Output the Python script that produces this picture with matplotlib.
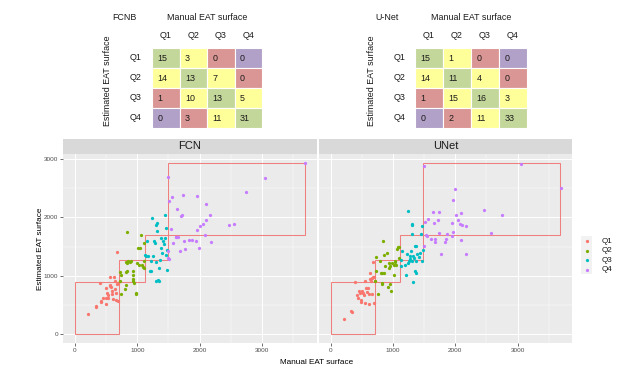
import matplotlib
matplotlib.use('Agg')
import matplotlib.pyplot as plt
from matplotlib.patches import Rectangle

plt.rcParams['font.family'] = ['Liberation Sans', 'DejaVu Sans']

W, H = 624, 375

# ---------------- data ----------------
quartiles = ['Q1', 'Q2', 'Q3', 'Q4']
fcnb_matrix = [[15, 3, 0, 0], [14, 13, 7, 0], [1, 10, 13, 5], [0, 3, 11, 31]]
unet_matrix = [[15, 1, 0, 0], [14, 11, 4, 0], [1, 15, 16, 3], [0, 2, 11, 33]]
# colour by distance from diagonal
cell_colors = ['#C4D79B', '#FFFF99', '#DA9694', '#B1A0C7']

manual_breaks = [0, 712, 1118, 1488, 3690]
est_breaks = [0, 898, 1275, 1692, 2937]

q_colors = ['#F8766D', '#7CAE00', '#00BFC4', '#C77CFF']

fcn_q1_x = [213, 331, 336, 416, 427, 400, 496, 501, 512, 533, 560, 571, 581, 592, 613,
            629, 645, 656, 667, 677, 677, 688, 693, 699, 539, 453, 603, 640, 560, 507]
fcn_q1_y = [352, 460, 494, 551, 579, 886, 523, 625, 716, 670, 982, 840, 806, 738, 597,
            977, 784, 585, 710, 864, 1409, 881, 579, 875, 625, 625, 693, 909, 824, 795]
fcn_q2_x = [747, 731, 731, 736, 805, 827, 837, 827, 843, 859, 880, 901, 816, 837, 933, 933,
            933, 933, 944, 976, 987, 997, 1019, 1051, 1061, 1072, 1093, 1109, 1115, 1104, 1029]
fcn_q2_y = [693, 909, 1068, 1011, 784, 840, 1743, 1238, 1215, 1250, 1232, 1261, 1063, 1091, 1079, 1011,
            954, 920, 875, 693, 716, 1221, 1477, 1477, 1704, 1181, 1158, 1136, 1562, 1261, 1193]
fcn_q3_x = [1125, 1136, 1157, 1173, 1200, 1227, 1237, 1253, 1264, 1285, 1296, 1307, 1317, 1317, 1307, 1333,
            1349, 1349, 1360, 1376, 1403, 1413, 1429, 1440, 1451, 1456, 1467, 1472, 1477, 1227, 1387]
fcn_q3_y = [1352, 1335, 1590, 1346, 1079, 1079, 1988, 1335, 1590, 1562, 1233, 1874, 1903, 1761, 909, 937,
            909, 1136, 1278, 1477, 1392, 1590, 1545, 2033, 1647, 1818, 1363, 1108, 1448, 1250, 1647]
fcn_q4_x = [1490, 1493, 1504, 1541, 1563, 1616, 1637, 1653, 1680, 1717, 1733, 1744, 1765, 1829, 1883, 1941,
            1957, 1957, 1984, 2011, 2053, 2080, 2096, 2107, 2171, 2176, 2464, 2549, 2747, 3051, 3680,
            1499, 1707, 1627, 1509, 1573]
fcn_q4_y = [2698, 1420, 2283, 1801, 2346, 1664, 2147, 1664, 1420, 2045, 2386, 1602, 1460, 1613, 1613, 1602,
            1778, 2369, 1477, 1857, 1891, 1693, 2227, 1960, 2045, 1579, 1874, 1886, 2431, 2670, 2937,
            1306, 2028, 1670, 1295, 1562]

unet_q1_x = [209, 332, 342, 396, 428, 439, 449, 482, 492, 503, 519, 530, 556, 572, 583,
             599, 610, 615, 626, 637, 647, 663, 679, 679, 690, 696, 706, 669, 465, 546]
unet_q1_y = [256, 398, 375, 897, 682, 625, 738, 585, 551, 750, 710, 682, 540, 795, 721,
             795, 523, 693, 1051, 954, 909, 966, 1238, 977, 977, 540, 909, 699, 710, 909]
unet_q2_x = [717, 733, 733, 760, 802, 824, 829, 840, 851, 861, 872, 904, 920, 931, 936,
             947, 974, 990, 1011, 1017, 1027, 1038, 1054, 1064, 1080, 1091, 1097, 829, 947, 787]
unet_q2_y = [909, 1318, 1079, 693, 1051, 863, 1051, 1602, 1051, 1352, 1165, 1392, 807, 1221, 1136,
             863, 738, 1227, 1022, 1193, 1261, 1238, 1193, 1465, 1488, 1306, 1499, 880, 1170, 1250]
unet_q3_x = [1125, 1128, 1150, 1198, 1214, 1225, 1236, 1241, 1252, 1268, 1279, 1295, 1305, 1305, 1311, 1311,
             1321, 1321, 1332, 1348, 1359, 1364, 1375, 1386, 1418, 1428, 1455, 1471, 1482, 1466, 1364]
unet_q3_y = [1278, 1176, 1420, 1193, 1011, 1375, 1221, 2102, 1250, 1289, 1335, 1420, 1721, 1261, 1863, 1891,
             892, 1335, 1306, 1079, 1505, 1250, 1517, 1375, 1323, 1392, 1715, 1261, 1448, 1846, 1051]
unet_q4_x = [1493, 1498, 1509, 1525, 1562, 1552, 1605, 1642, 1659, 1669, 1680, 1723, 1733, 1739, 1766, 1840,
             1856, 1867, 1953, 1953, 1963, 1963, 1996, 2017, 2049, 2070, 2087, 2097, 2113, 2167, 2177,
             2461, 2568, 2750, 3055, 3692]
unet_q4_y = [2885, 1505, 1920, 1704, 1971, 1681, 1636, 2090, 1903, 1579, 1636, 1960, 2090, 1732, 1375, 1579,
             1636, 1715, 1903, 1676, 1749, 2300, 2482, 2033, 1960, 1886, 1619, 2079, 1874, 1857, 1380,
             2119, 1738, 2033, 2914, 2510]

fcn_groups = [(fcn_q1_x, fcn_q1_y), (fcn_q2_x, fcn_q2_y), (fcn_q3_x, fcn_q3_y), (fcn_q4_x, fcn_q4_y)]
unet_groups = [(unet_q1_x, unet_q1_y), (unet_q2_x, unet_q2_y), (unet_q3_x, unet_q3_y), (unet_q4_x, unet_q4_y)]

# ---------------- helpers ----------------
fig = plt.figure(figsize=(W / 100, H / 100), dpi=100)
fig.patch.set_facecolor('white')


def box(l, t, r, b):
    return [l / W, 1 - b / H, (r - l) / W, (b - t) / H]


def ftext(x, y, s, **kw):
    fig.text(x / W, 1 - y / H, s, **kw)


TXT = '#1A1A1A'


def draw_table(l, r, mat, name, name_x, row_x, ylab_x, head_x):
    t, b = 48, 128
    ax = fig.add_axes(box(l, t, r, b))
    for i in range(4):
        for j in range(4):
            ax.add_patch(Rectangle((j, i), 1, 1, facecolor=cell_colors[abs(i - j)],
                                   edgecolor='white', lw=0.8))
            ax.text(j + 0.2, i + 0.52, str(mat[i][j]), ha='left', va='center',
                    fontsize=6.4, color=TXT)
    ax.set_xlim(0, 4)
    ax.set_ylim(4, 0)
    ax.axis('off')
    cw = (r - l) / 4
    for j, q in enumerate(quartiles):
        ftext(l + cw * (j + 0.5), 35, q, ha='center', va='center', fontsize=6.4, color=TXT)
    rh = (b - t) / 4
    for i, q in enumerate(quartiles):
        ftext(row_x, t + rh * (i + 0.5), q, ha='center', va='center', fontsize=6.4, color=TXT)
    ftext(name_x, 17, name, ha='center', va='center', fontsize=6.4, color=TXT)
    ftext(head_x, 17, 'Manual EAT surface', ha='center', va='center', fontsize=6.4, color=TXT)
    ftext(ylab_x, 81, 'Estimated EAT surface', ha='center', va='center', rotation=90,
          fontsize=6.4, color=TXT)


draw_table(152, 262, fcnb_matrix, 'FCNB', 124, 136, 108, 207.5)
draw_table(415, 527, unet_matrix, 'U-Net', 387, 400, 371, 471)

# ---------------- scatter facets ----------------
xlim = (-185, 3875)
ylim = (-147, 3084)
panels = [(63.3, 316.7, 'FCN', fcn_groups), (319.3, 572, 'UNet', unet_groups)]
for k, (l, r, title, groups) in enumerate(panels):
    ax = fig.add_axes(box(l, 154, r, 343))
    ax.set_facecolor('#EBEBEB')
    for s in ax.spines.values():
        s.set_visible(False)
    ax.set_xlim(*xlim)
    ax.set_ylim(*ylim)
    ax.set_xticks([0, 1000, 2000, 3000])
    ax.set_xticks([500, 1500, 2500, 3500], minor=True)
    ax.set_yticks([0, 1000, 2000, 3000])
    ax.set_yticks([500, 1500, 2500], minor=True)
    ax.grid(which='major', color='white', lw=0.7)
    ax.grid(which='minor', color='white', lw=0.35)
    ax.set_axisbelow(True)
    ax.tick_params(which='major', length=2, width=0.5, color='#333333',
                   labelsize=4.6, labelcolor='#4D4D4D', pad=1.5)
    ax.tick_params(which='minor', length=0)
    if k == 1:
        ax.tick_params(axis='y', left=False, labelleft=False)
    for i in range(4):
        x0, x1 = manual_breaks[i], manual_breaks[i + 1]
        y0, y1 = est_breaks[i], est_breaks[i + 1]
        ax.add_patch(Rectangle((x0, y0), x1 - x0, y1 - y0, fill=False,
                               edgecolor='#F07F7F', lw=0.75, zorder=2))
    for i, (xs, ys) in enumerate(groups):
        ax.scatter(xs, ys, s=5.5, color=q_colors[i], linewidths=0, zorder=3)
    sax = fig.add_axes(box(l, 138.5, r, 154))
    sax.set_facecolor('#D9D9D9')
    sax.set_xticks([])
    sax.set_yticks([])
    for s in sax.spines.values():
        s.set_visible(False)
    sax.text(0.5, 0.5, title, ha='center', va='center', fontsize=8, color=TXT,
             transform=sax.transAxes)

ftext(317, 362, 'Manual EAT surface', ha='center', va='center', fontsize=5.9, color='black')
ftext(40, 249, 'Estimated EAT surface', ha='center', va='center', rotation=90,
      fontsize=5.9, color='black')

# ---------------- legend ----------------
key_y = [241, 250.5, 260, 269.5]
for i, q in enumerate(quartiles):
    kax = fig.add_axes(box(581, key_y[i] - 4.75, 592, key_y[i] + 4.75))
    kax.set_facecolor('#F2F2F2')
    kax.set_xticks([])
    kax.set_yticks([])
    for s in kax.spines.values():
        s.set_visible(False)
    kax.set_xlim(0, 1)
    kax.set_ylim(0, 1)
    kax.scatter([0.5], [0.5], s=5.5, color=q_colors[i], linewidths=0)
    ftext(602, key_y[i], q, ha='left', va='center', fontsize=5.9, color=TXT)

fig.savefig('out.png', dpi=100)
